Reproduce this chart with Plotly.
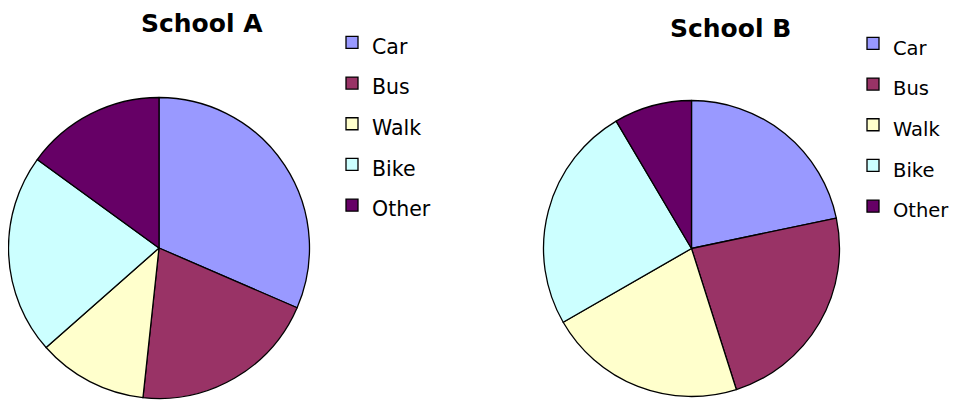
import plotly.graph_objects as go

OFF = 8  # page body margin
W, H = 941, 401

categories = ["Car", "Bus", "Walk", "Bike", "Other"]
school_a = [31.5, 20.2, 11.8, 21.5, 15.0]
school_b = [21.7, 23.4, 21.6, 24.8, 8.5]
titles = ["School A", "School B"]
colors = ["#9999FF", "#993366", "#FFFFCC", "#CCFFFF", "#660066"]

labels_a = [f"<span style='font-size:20.5px'>{c}</span>" for c in categories]
labels_b = [f"<span style='font-size:19.5px'>{c}</span>" for c in categories]


def px(x):
    return (x - OFF) / W


def py(y):
    return 1 - (y - OFF) / H


def dom(cx, cy, r):
    return dict(x=[px(cx - r), px(cx + r)], y=[py(cy + r), py(cy - r)])


fig = go.Figure()
fig.add_trace(go.Pie(
    labels=labels_a, values=school_a, sort=False, direction="clockwise", rotation=0,
    marker=dict(colors=colors, line=dict(color="black", width=1.3)),
    textinfo="none", domain=dom(159, 248, 150.5), legend="legend",
    hovertext=categories, hoverinfo="text+percent",
))
fig.add_trace(go.Pie(
    labels=labels_b, values=school_b, sort=False, direction="clockwise", rotation=0,
    marker=dict(colors=colors, line=dict(color="black", width=1.3)),
    textinfo="none", domain=dom(691.5, 248.5, 148), legend="legend2",
    hovertext=categories, hoverinfo="text+percent",
))

legfont = dict(family="DejaVu Sans", size=29, color="black")
fig.update_layout(
    width=W, height=H,
    margin=dict(l=0, r=0, t=0, b=0, autoexpand=False),
    paper_bgcolor="white", plot_bgcolor="white",
    legend=dict(x=px(332), y=py(17), xanchor="left", yanchor="top",
                font=legfont, bgcolor="rgba(0,0,0,0)", traceorder="normal"),
    legend2=dict(x=px(853), y=py(18), xanchor="left", yanchor="top",
                 font=legfont, bgcolor="rgba(0,0,0,0)", traceorder="normal"),
    annotations=[
        dict(text=f"<b>{titles[0]}</b>", x=px(202), y=py(23), xref="paper", yref="paper",
             showarrow=False, xanchor="center", yanchor="middle",
             font=dict(family="DejaVu Sans", size=25, color="black")),
        dict(text=f"<b>{titles[1]}</b>", x=px(730), y=py(28), xref="paper", yref="paper",
             showarrow=False, xanchor="center", yanchor="middle",
             font=dict(family="DejaVu Sans", size=25, color="black")),
    ],
)

fig.write_html("out.html")
